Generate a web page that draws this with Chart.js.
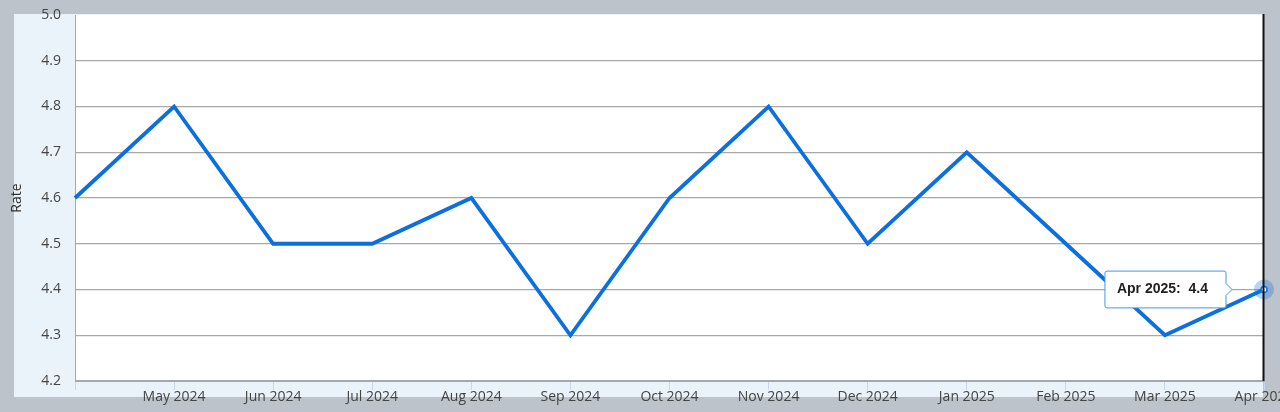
<!DOCTYPE html>
<html>
<head>
<meta charset="utf-8">
<script src="https://cdn.jsdelivr.net/npm/chart.js@4.4.1/dist/chart.umd.min.js"></script>
<style>
  html, body { margin: 0; padding: 0; background: #bcc3ca; }
</style>
</head>
<body>
<canvas id="myChart" width="1280" height="412"></canvas>
<script>
const meses = ['Apr 2024', 'May 2024', 'Jun 2024', 'Jul 2024', 'Aug 2024', 'Sep 2024', 'Oct 2024',
               'Nov 2024', 'Dec 2024', 'Jan 2025', 'Feb 2025', 'Mar 2025', 'Apr 2025'];
const taxa = [4.6, 4.8, 4.5, 4.5, 4.6, 4.3, 4.6, 4.8, 4.5, 4.7, 4.5, 4.3, 4.4];
const ticksY = [4.2, 4.3, 4.4, 4.5, 4.6, 4.7, 4.8, 4.9, 5.0];
const tituloY = 'Rate';
const indiceAtivo = 12;

const azul = '#0b6fe0';

// fundo cinza, painel azul claro e area branca
const fundo = {
    id: 'fundo',
    beforeDraw(chart) {
        const c = chart.ctx;
        const a = chart.chartArea;
        c.save();
        c.fillStyle = '#bcc3ca';
        c.fillRect(0, 0, chart.width, chart.height);
        c.fillStyle = '#eaf2fa';
        c.fillRect(14, 14, 1249, 383);
        c.fillStyle = '#ffffff';
        c.fillRect(a.left, a.top, a.right - a.left, a.bottom - a.top);
        c.restore();
    },
    afterDraw(chart) {
        const c = chart.ctx;
        const a = chart.chartArea;
        c.save();
        c.strokeStyle = '#111';
        c.lineWidth = 2;
        c.beginPath();
        c.moveTo(a.right - 0.5, 14);
        c.lineTo(a.right - 0.5, a.bottom);
        c.stroke();
        c.restore();
    }
};

// halo em volta do ponto ativo
const halo = {
    id: 'halo',
    afterDatasetsDraw(chart) {
        const ativos = chart.getActiveElements();
        if (!ativos.length) return;
        const el = ativos[0].element;
        const c = chart.ctx;
        c.save();
        c.fillStyle = 'rgba(11, 111, 224, 0.3)';
        c.beginPath();
        c.arc(el.x, el.y, 10, 0, Math.PI * 2);
        c.fill();
        c.fillStyle = '#fff';
        c.strokeStyle = azul;
        c.lineWidth = 1.5;
        c.beginPath();
        c.arc(el.x, el.y, 3, 0, Math.PI * 2);
        c.fill();
        c.stroke();
        c.restore();
    }
};

const ctx = document.getElementById('myChart').getContext('2d');
const myChart = new Chart(ctx, {
    type: 'line',
    data: {
        labels: meses,
        datasets: [{
            label: tituloY,
            data: taxa,
            borderColor: azul,
            borderWidth: 3.8,
            tension: 0,
            pointRadius: 0,
            pointHoverRadius: 0,
            fill: false,
            clip: false
        }]
    },
    options: {
        responsive: false,
        animation: false,
        events: [],
        layout: { padding: { top: 15, right: 16, left: 0, bottom: 0 } },
        plugins: {
            legend: { display: false },
            tooltip: {
                enabled: true,
                backgroundColor: '#ffffff',
                borderColor: '#4a94e4',
                borderWidth: 1,
                cornerRadius: 2,
                caretSize: 6,
                caretPadding: 32,
                xAlign: 'right',
                yAlign: 'center',
                displayColors: false,
                padding: { top: 10, bottom: 10, left: 12, right: 18 },
                bodyColor: '#222',
                bodyFont: { family: 'Liberation Sans, Arial, sans-serif', size: 14, weight: 'bold' },
                callbacks: {
                    title: () => [],
                    label: item => item.label + ':  ' + item.parsed.y.toFixed(1)
                }
            }
        },
        scales: {
            x: {
                afterFit(scale) {
                    scale.height = 31;
                    scale.paddingLeft = 0;
                    scale.paddingRight = 0;
                },
                border: { display: true, color: '#a8a8a8', width: 1 },
                grid: {
                    drawOnChartArea: false,
                    drawTicks: true,
                    tickLength: 9,
                    tickColor: '#c8d8ea'
                },
                ticks: {
                    autoSkip: false,
                    maxRotation: 0,
                    padding: -1,
                    color: '#444',
                    font: { family: 'Open Sans', size: 14 },
                    callback: function (v, i) { return i === 0 ? '' : meses[i]; }
                }
            },
            y: {
                min: 4.2,
                max: 5.0,
                afterBuildTicks(scale) {
                    scale.ticks = ticksY.map(v => ({ value: v }));
                },
                afterFit(scale) {
                    scale.width = 75;
                    scale.paddingTop = 0;
                    scale.paddingBottom = 0;
                },
                border: { display: true, color: '#a8a8a8', width: 1 },
                grid: {
                    drawTicks: false,
                    color: ctx => ctx.tick && ctx.tick.value >= 5.0 ? 'rgba(0,0,0,0)' : '#a8a8a8',
                    lineWidth: 1.2
                },
                ticks: {
                    padding: 14,
                    color: '#444',
                    font: { family: 'Open Sans', size: 14 },
                    callback: v => Number(v).toFixed(1)
                },
                title: {
                    display: true,
                    text: tituloY,
                    color: '#333',
                    font: { family: 'Open Sans', size: 14 },
                    padding: { top: 9, bottom: 0 }
                }
            }
        }
    },
    plugins: [fundo, halo]
});

const meta = myChart.getDatasetMeta(0);
const ponto = meta.data[indiceAtivo];
const ativo = [{ datasetIndex: 0, index: indiceAtivo }];
myChart.setActiveElements(ativo);
myChart.tooltip.setActiveElements(ativo, { x: ponto.x, y: ponto.y });
myChart.update();
</script>
</body>
</html>
